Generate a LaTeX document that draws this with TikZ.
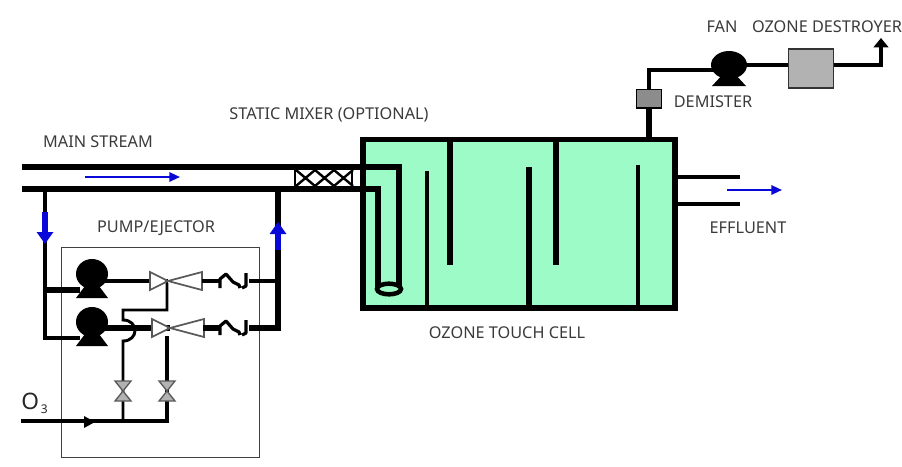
\documentclass[tikz,border=0pt]{standalone}
\usepackage{fontspec}
\setmainfont{Noto Sans}
\usetikzlibrary{arrows.meta}
\usetikzlibrary{shapes.geometric}

\definecolor{cellgreen}{HTML}{9DFBC7}
\definecolor{labelgrey}{HTML}{3A3A3A}
\definecolor{partgrey}{HTML}{B2B2B2}
\definecolor{flowblue}{HTML}{0808D8}

\tikzset{
	pipe/.style={line width=4pt, line cap=butt, line join=miter},
	thinpipe/.style={line width=3pt, line join=miter},
	label/.style={inner sep=0pt, text=labelgrey, font=\fontsize{12.2pt}{14pt}\selectfont},
	vessel/.style={draw=black, line width=4pt, fill=cellgreen, inner sep=0pt, outer sep=0pt},
	flow/.style={-{Triangle[length=8pt,width=7pt]}, flowblue, line width=1.6pt},
	flowfat/.style={-{Triangle[length=9pt,width=12pt]}, flowblue, line width=4.4pt},
	pump/.pic={
		\fill[black] (0,0) ellipse (16 and 15);
		\fill[black] (-4,8) -- (4,8) -- (16,24) -- (-16,24) -- cycle;
	},
	fan/.pic={
		\fill[black] (0,0) ellipse (18 and 14);
		\fill[black] (-5,8) -- (5,8) -- (17,21) -- (-17,21) -- cycle;
	},
	ejector/.pic={
		\draw[draw=black!65, fill=white, line width=1.3pt, line join=miter]
			(-18,-9) -- (0,0) -- (-18,9) -- cycle
			(0,0) -- (34,-9) -- (34,9) -- cycle;
	},
	check/.pic={
		\draw[black, line width=2.4pt, line join=round]
			(-13,7) -- (-13,-2) -- (-7,-7) -- (0,1) -- (6,4) -- (7,7)
			(13,-8) -- (13,5) -- (9,7);
	},
	gate/.pic={
		\draw[draw=black!65, fill=partgrey, line width=1pt]
			(-8,-10) -- (8,-10) -- (-8,10) -- (8,10) -- cycle;
	}
}

\begin{document}
\begin{tikzpicture}[x=0.75pt, y=-0.75pt]
	\useasboundingbox (0,0) rectangle (902,467);

	% touch cell with its baffles
	\node[vessel, minimum width=234pt, minimum height=126.5pt] (cell) at (519,223.5) {};
	\draw[pipe] (450,139) -- (450,265);
	\draw[pipe] (556,139) -- (556,265);
	\draw[thinpipe] (427,308) -- (427,171);
	\draw[pipe] (529,308) -- (529,167);
	\draw[thinpipe] (638,308) -- (638,165);

	% main stream pipes
	\coordinate (inTop) at (22,167);
	\coordinate (inBot) at (22,189);
	\coordinate (dipOuter) at (399,288);
	\coordinate (dipInner) at (378,288);
	\draw[pipe] (inTop) -| (dipOuter);
	\draw[pipe] (inBot) -| (dipInner);
	\node[draw=black, fill=cellgreen, line width=3.4pt, ellipse, inner sep=0pt, minimum width=18pt, minimum height=8pt] (dipEnd) at (389,289) {};

	% static mixer
	\node[draw=black, fill=white, line width=1.5pt, inner sep=0pt, minimum width=43pt, minimum height=17pt] (mixer) at (323.5,178) {};
	\foreach \i in {0,19,38}
		\draw[line width=1.8pt] (296+\i,170) -- (315+\i,186) (315+\i,170) -- (296+\i,186);
	\draw[pipe] (inTop) -- (363,167);
	\draw[pipe] (inBot) -- (363,189);

	% pump skid
	\node[draw=black!75, line width=0.9pt, inner sep=0pt, minimum width=149pt, minimum height=157pt] (skid) at (160.5,352.5) {};

	\pic (pumpA) at (92,274) {pump};
	\pic (pumpB) at (92,322) {pump};
	\coordinate (tapIn) at (45,189);
	\coordinate (tapOut) at (278,189);
	\coordinate (suctionA) at (80,290);
	\coordinate (suctionB) at (80,338);
	\coordinate (throatA) at (168,281);
	\coordinate (throatB) at (170,328);
	\coordinate (checkA) at (233,281);
	\coordinate (checkB) at (233,328);
	\draw[thinpipe] (tapIn) |- (suctionB);
	\draw[pipe, line width=4.4pt] (tapIn |- suctionA) -- (suctionA);
	\draw[thinpipe] (105,281) -- (throatA);
	\draw[pipe] (105,328) -- (throatB);
	\pic at (throatA) {ejector};
	\pic at (throatB) {ejector};
	\draw[thinpipe] (202,281) -- (219,281);
	\draw[pipe] (203,328) -- (219,328);
	\pic at (checkA) {check};
	\pic at (checkB) {check};
	\draw[thinpipe] (249,281) -- (278,281);
	\draw[pipe] (249,328) -| (tapOut);

	% ozone feed
	\coordinate (o3In) at (21,421);
	\coordinate (feedA) at (123,421);
	\coordinate (feedB) at (167,421);
	\coordinate (gateA) at (123,391);
	\coordinate (gateB) at (167,391);
	\draw[thinpipe] (o3In) -- (feedB) -- (gateB) -- (167,336);
	\draw[thinpipe, line width=2.2pt] (167,283) -- (167,310) -- (123,310) -- (123,320)
		.. controls (139,320) and (139,341) .. (123,341) -- (gateA) -- (feedA);
	\pic at (gateA) {gate};
	\pic at (gateB) {gate};
	\fill[black] (84,416) -- (95,422) -- (84,428) -- cycle;

	% off-gas line
	\node[draw=black!80, line width=1.2pt, fill=partgrey, inner sep=0pt, minimum width=34pt, minimum height=29pt] (destroyer) at (811,68.5) {};
	\pic (fan) at (729,65) {fan};
	\coordinate (demisterTop) at (649,89);
	\coordinate (fanIn) at (715,70);
	\coordinate (fanOut) at (747,65);
	\coordinate (ventTop) at (881,38);
	\draw[pipe] (cell.north -| demisterTop) -- (demisterTop);
	\draw[thinpipe] (demisterTop) |- (fanIn);
	\draw[thinpipe] (fanOut) -- (fanOut -| destroyer.west);
	\draw[thinpipe, -{Triangle[length=7pt,width=11pt]}] (fanOut -| destroyer.east) -| (ventTop);
	\node[draw=black, line width=1pt, fill=black!45, inner sep=0pt, minimum width=19pt, minimum height=14pt] (demister) at (649,98.5) {};

	% effluent
	\coordinate (outTop) at (740,177);
	\coordinate (outBot) at (740,204);
	\draw[thinpipe] (cell.east |- outTop) -- (outTop);
	\draw[thinpipe] (cell.east |- outBot) -- (outBot);

	% flow arrows
	\draw[flow] (85,177) -- (180,177);
	\draw[flow] (727,190) -- (782,190);
	\draw[flowfat] (45,212) -- (45,244);
	\draw[flowfat] (278,250) -- (278,222);

	% labels
	\node[label] (mainLabel) at (98,142) {MAIN STREAM};
	\node[label] (mixerLabel) at (329,115) {STATIC MIXER (OPTIONAL)};
	\node[label] (skidLabel) at (156,228) {PUMP/EJECTOR};
	\node[label] (fanLabel) at (722,27) {FAN};
	\node[label] (destroyerLabel) at (827,27) {OZONE DESTROYER};
	\node[label] (demisterLabel) at (713,102) {DEMISTER};
	\node[label] (effluentLabel) at (748,228) {EFFLUENT};
	\node[label] (cellLabel) at (507,333) {OZONE TOUCH CELL};
	\node[label, anchor=west, font=\fontsize{17pt}{18pt}\selectfont, text=black!85] (o3Label) at (21,403) {O\raisebox{-3pt}{\fontsize{9pt}{10pt}\selectfont\,3}};
\end{tikzpicture}
\end{document}
